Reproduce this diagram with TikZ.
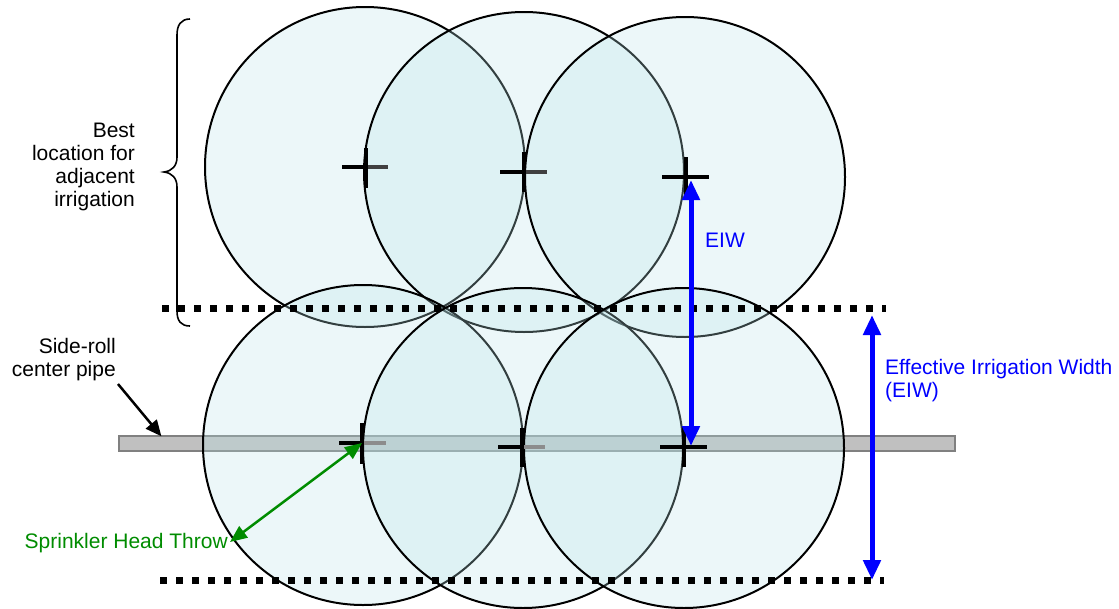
\documentclass[tikz,border=0pt]{standalone}
\usepackage{fontspec}
\setmainfont{Liberation Sans}
\usetikzlibrary{arrows.meta}
\definecolor{circfill}{RGB}{185,228,232}
\definecolor{pipegray}{RGB}{192,192,192}
\definecolor{eiwblue}{RGB}{0,0,255}
\definecolor{throwgreen}{RGB}{0,140,0}
\tikzset{
  spray/.style={draw=black, line width=2pt, fill=circfill, fill opacity=0.28},
  headline/.style={line width=4pt},
  dotline/.style={line width=7pt, dash pattern=on 7pt off 9pt},
  lbl/.style={font=\fontsize{21}{23}\selectfont, inner sep=0pt},
  bluearrow/.style={eiwblue, line width=5pt, {Triangle[width=17pt,length=20pt]}-{Triangle[width=17pt,length=20pt]}},
  greenarrow/.style={throwgreen, line width=2.5pt, {Triangle[width=14pt,length=17pt]}-{Triangle[width=14pt,length=17pt]}},
  blackarrow/.style={black, line width=2.5pt, -{Triangle[width=14pt,length=16pt]}},
}
\begin{document}
\begin{tikzpicture}[x=1pt,y=-1pt]
\useasboundingbox (0,0) rectangle (1119,608);
% pipe
\draw[fill=pipegray, draw=gray, line width=1.5pt] (119,436) rectangle (955,451);
\node[inner sep=0pt] (pipe) at (162,437) {};
% centers
\coordinate (t1) at (365,167);
\coordinate (t2) at (524,172);
\coordinate (t3) at (685,177);
\coordinate (b1) at (363,445);
\coordinate (b2) at (523,448);
\coordinate (b3) at (684,448);
% circles
\foreach \c in {t1,t2,t3,b1,b2,b3} \draw[spray] (\c) circle[radius=160];
% sprinkler heads
\draw[headline] (342,167) -- (365,167); \draw[headline, black!75] (365,167) -- (388,167);
\draw[headline] (366,148) -- (366,188);
\draw[headline] (500,172) -- (523,172); \draw[headline, black!75] (523,172) -- (547,172);
\draw[headline] (524,152) -- (524,192);
\draw[headline] (662,177) -- (709,177);
\draw[headline] (686,157) -- (686,198);
\draw[headline] (339,443) -- (362,443); \draw[headline, black!45] (362,443) -- (386,443);
\draw[headline] (362,423) -- (362,464);
\draw[headline] (498,447) -- (522,447); \draw[headline, black!45] (522,447) -- (545,447);
\draw[headline] (522,428) -- (522,467);
\draw[headline] (660,447) -- (707,447);
\draw[headline] (684,426) -- (684,467);
% dotted limits
\coordinate (dt1) at (162,308); \coordinate (dt2) at (886,308);
\coordinate (db1) at (160,580); \coordinate (db2) at (884,580);
\draw[dotline] (dt1) -- (dt2);
\draw[dotline] (db1) -- (db2);
% brace
\draw[line width=1.6pt] (190,19) .. controls (181,19) and (177,25) .. (177,35) -- (177,157) .. controls (177,166) and (172,171) .. (164,172) .. controls (172,173) and (177,178) .. (177,187) -- (177,311) .. controls (177,321) and (181,326) .. (190,326);
% labels
\node[lbl, align=right, anchor=east] (best) at (135,167) {Best\\location for\\adjacent\\irrigation};
\node[lbl, align=right, anchor=east] (side) at (116,360) {Side-roll\\center pipe};
\coordinate (sidefoot) at (118,384);
\draw[blackarrow] (sidefoot) -- (pipe);
% EIW arrows
\coordinate (e1) at (691,180); \coordinate (e2) at (691,446);
\draw[bluearrow] (e1) -- (e2);
\node[lbl, text=eiwblue, anchor=west] (eiw) at (705,240) {EIW};
\coordinate (f1) at (872,315); \coordinate (f2) at (872,580);
\draw[bluearrow] (f1) -- (f2);
\node[lbl, text=eiwblue, align=left, anchor=west] (eiwlong) at (885,381) {Effective Irrigation Width\\(EIW)};
% throw
\coordinate (h1) at (362,443); \coordinate (h2) at (230,542);
\draw[greenarrow] (h2) -- (h1);
\node[lbl, text=throwgreen, anchor=east] (throw) at (228,543) {Sprinkler Head Throw};
\end{tikzpicture}
\end{document}
